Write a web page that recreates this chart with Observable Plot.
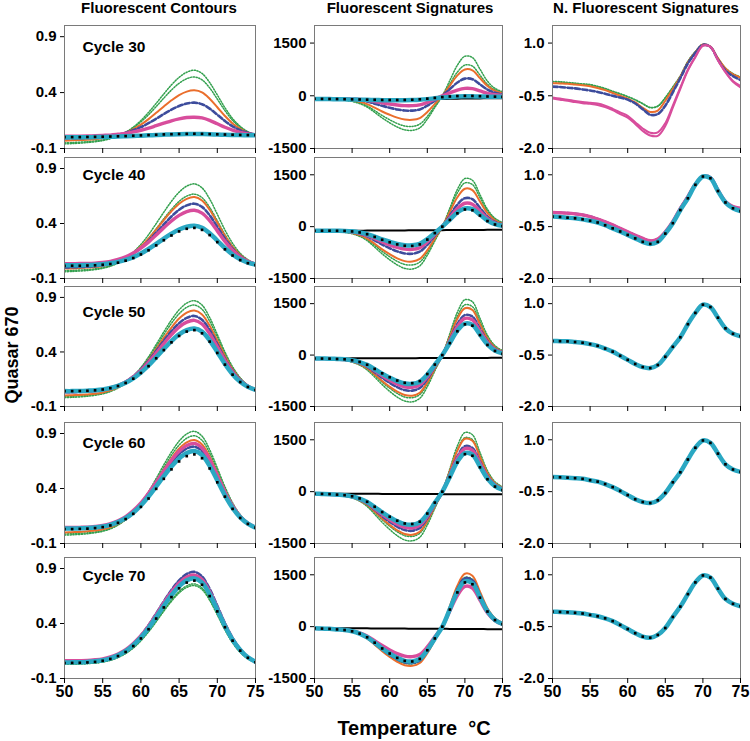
<!DOCTYPE html>
<html><head><meta charset="utf-8">
<script src="https://cdn.jsdelivr.net/npm/d3@7"></script>
<script src="https://cdn.jsdelivr.net/npm/@observablehq/plot@0.6"></script>
<style>
body{margin:0;background:#fff;}
#chart{position:relative;width:750px;height:741px;overflow:hidden;font-family:"Liberation Sans",Arial,sans-serif;font-weight:bold;color:#000;background:#fff;}
.abs{position:absolute;white-space:pre;}
</style></head><body><div id="chart"></div>
<script>
const temps = [50,51,52,53,54,55,56,57,58,59,60,61,62,63,64,65,66,67,68,69,70,71,72,73,74,75];
const xTicks = [50,55,60,65,70,75];
const cycles = [30,40,50,60,70];
const columnTitles = ["Fluorescent Contours","Fluorescent Signatures","N. Fluorescent Signatures"];
const contourTicks = [-0.1,0.4,0.9];
const signatureTicks = [-1500,0,1500];
const normTicks = [-2.0,-0.5,1.0];

// ---------- Fluorescent Contours ----------
const contours30 = {
  greenA:[-0.059,-0.056,-0.052,-0.047,-0.040,-0.029,-0.012,0.012,0.045,0.091,0.150,0.223,0.304,0.388,0.469,0.536,0.582,0.600,0.571,0.490,0.379,0.265,0.168,0.098,0.050,0.022],
  greenB:[-0.050,-0.047,-0.043,-0.039,-0.032,-0.023,-0.009,0.014,0.043,0.085,0.138,0.202,0.275,0.351,0.423,0.483,0.524,0.540,0.514,0.442,0.342,0.239,0.152,0.090,0.046,0.021],
  orange:[-0.030,-0.027,-0.024,-0.022,-0.017,-0.009,0.002,0.019,0.041,0.073,0.113,0.163,0.219,0.276,0.331,0.378,0.409,0.420,0.402,0.345,0.269,0.191,0.124,0.076,0.042,0.023],
  navy:[-0.010,-0.008,-0.007,-0.004,0.000,0.004,0.012,0.024,0.041,0.063,0.091,0.126,0.166,0.208,0.247,0.280,0.302,0.310,0.296,0.257,0.202,0.146,0.098,0.064,0.040,0.026],
  magenta:[0.010,0.010,0.011,0.012,0.014,0.017,0.020,0.027,0.035,0.048,0.063,0.082,0.104,0.126,0.148,0.165,0.177,0.180,0.174,0.152,0.121,0.090,0.064,0.044,0.031,0.023],
  cyan:[0.000,0.000,0.000,0.001,0.002,0.003,0.005,0.007,0.009,0.012,0.015,0.018,0.021,0.024,0.026,0.028,0.029,0.030,0.029,0.027,0.025,0.023,0.021,0.020,0.019,0.018],
  black:[0.002,0.002,0.002,0.003,0.004,0.005,0.007,0.009,0.011,0.014,0.017,0.020,0.023,0.026,0.028,0.030,0.031,0.032,0.031,0.029,0.027,0.025,0.023,0.021,0.020,0.019]
};
const contours40 = {
  greenA:[-0.039,-0.036,-0.032,-0.027,-0.019,-0.007,0.012,0.042,0.082,0.139,0.210,0.298,0.399,0.503,0.602,0.685,0.740,0.760,0.724,0.623,0.484,0.341,0.220,0.129,0.071,0.035],
  greenB:[-0.029,-0.027,-0.023,-0.019,-0.012,-0.001,0.015,0.040,0.076,0.125,0.188,0.264,0.352,0.443,0.528,0.601,0.649,0.667,0.635,0.546,0.425,0.300,0.194,0.116,0.064,0.033],
  orange:[-0.009,-0.008,-0.005,-0.001,0.004,0.014,0.029,0.052,0.085,0.131,0.190,0.262,0.344,0.431,0.511,0.579,0.624,0.640,0.609,0.525,0.408,0.289,0.187,0.113,0.063,0.033],
  navy:[0.001,0.002,0.004,0.007,0.011,0.020,0.033,0.054,0.082,0.124,0.177,0.242,0.316,0.391,0.464,0.525,0.565,0.580,0.551,0.475,0.370,0.263,0.172,0.103,0.059,0.031],
  magenta:[0.035,0.035,0.036,0.037,0.040,0.046,0.056,0.073,0.097,0.132,0.177,0.231,0.295,0.361,0.423,0.474,0.508,0.520,0.494,0.426,0.333,0.237,0.157,0.095,0.056,0.030],
  cyan:[0.020,0.021,0.021,0.023,0.025,0.030,0.038,0.051,0.069,0.094,0.127,0.168,0.214,0.263,0.308,0.346,0.371,0.380,0.362,0.312,0.245,0.177,0.118,0.074,0.045,0.027],
  black:[0.015,0.016,0.016,0.018,0.020,0.025,0.032,0.044,0.062,0.086,0.118,0.157,0.201,0.248,0.291,0.328,0.352,0.360,0.342,0.295,0.231,0.165,0.109,0.067,0.039,0.022]
};
const contours50 = {
  greenA:[-0.019,-0.016,-0.012,-0.006,0.003,0.016,0.037,0.069,0.114,0.177,0.257,0.355,0.468,0.584,0.694,0.786,0.848,0.870,0.830,0.716,0.560,0.400,0.264,0.163,0.095,0.055],
  greenB:[-0.009,-0.006,-0.003,0.002,0.010,0.023,0.042,0.073,0.115,0.174,0.250,0.343,0.449,0.559,0.663,0.750,0.809,0.830,0.791,0.682,0.535,0.383,0.253,0.158,0.092,0.054],
  orange:[0.001,0.004,0.006,0.011,0.017,0.029,0.048,0.075,0.115,0.169,0.240,0.327,0.426,0.529,0.624,0.706,0.761,0.780,0.744,0.641,0.503,0.362,0.240,0.151,0.089,0.053],
  navy:[0.031,0.031,0.034,0.037,0.042,0.051,0.067,0.092,0.127,0.177,0.241,0.319,0.409,0.502,0.590,0.664,0.712,0.730,0.695,0.601,0.472,0.339,0.227,0.145,0.088,0.053],
  magenta:[0.036,0.036,0.039,0.041,0.046,0.054,0.070,0.092,0.125,0.171,0.231,0.305,0.389,0.476,0.558,0.628,0.673,0.690,0.656,0.567,0.446,0.323,0.217,0.138,0.086,0.053],
  cyan:[0.041,0.041,0.042,0.045,0.049,0.056,0.069,0.089,0.118,0.158,0.211,0.276,0.351,0.428,0.500,0.561,0.601,0.615,0.586,0.507,0.400,0.290,0.196,0.126,0.080,0.052],
  black:[0.041,0.041,0.042,0.044,0.048,0.056,0.068,0.088,0.116,0.155,0.207,0.270,0.342,0.417,0.488,0.547,0.587,0.600,0.571,0.495,0.391,0.284,0.192,0.124,0.079,0.051]
};
const contours60 = {
  greenA:[-0.024,-0.021,-0.017,-0.011,-0.002,0.011,0.033,0.067,0.116,0.182,0.268,0.372,0.491,0.616,0.732,0.831,0.896,0.920,0.876,0.753,0.587,0.416,0.270,0.161,0.091,0.048],
  greenB:[-0.014,-0.011,-0.008,-0.003,0.005,0.018,0.039,0.071,0.117,0.179,0.260,0.360,0.474,0.591,0.702,0.795,0.857,0.880,0.838,0.722,0.562,0.399,0.260,0.157,0.088,0.047],
  orange:[0.001,0.003,0.005,0.011,0.017,0.029,0.048,0.078,0.121,0.180,0.256,0.350,0.457,0.569,0.673,0.761,0.819,0.840,0.800,0.689,0.537,0.382,0.249,0.151,0.086,0.046],
  navy:[0.036,0.036,0.038,0.041,0.046,0.055,0.071,0.097,0.134,0.187,0.258,0.340,0.437,0.537,0.632,0.711,0.763,0.780,0.743,0.641,0.501,0.357,0.236,0.143,0.083,0.045],
  magenta:[0.046,0.046,0.047,0.049,0.055,0.064,0.080,0.107,0.145,0.200,0.270,0.357,0.457,0.559,0.657,0.738,0.791,0.810,0.769,0.663,0.518,0.369,0.243,0.147,0.085,0.046],
  cyan:[0.036,0.036,0.038,0.040,0.045,0.054,0.070,0.094,0.130,0.180,0.246,0.327,0.418,0.512,0.600,0.672,0.722,0.740,0.704,0.606,0.473,0.337,0.223,0.137,0.080,0.044],
  black:[0.031,0.031,0.033,0.035,0.040,0.049,0.064,0.088,0.122,0.170,0.233,0.309,0.397,0.488,0.574,0.646,0.694,0.710,0.675,0.582,0.456,0.326,0.215,0.132,0.078,0.044]
};
const contours70 = {
  greenA:[0.031,0.031,0.033,0.036,0.041,0.050,0.067,0.092,0.129,0.180,0.248,0.330,0.424,0.522,0.614,0.691,0.742,0.760,0.723,0.623,0.487,0.348,0.229,0.140,0.080,0.043],
  greenB:[0.031,0.031,0.033,0.036,0.041,0.050,0.066,0.091,0.127,0.177,0.243,0.324,0.416,0.512,0.602,0.678,0.728,0.745,0.709,0.611,0.478,0.341,0.224,0.138,0.079,0.042],
  orange:[0.041,0.042,0.043,0.046,0.052,0.062,0.079,0.106,0.145,0.201,0.272,0.361,0.461,0.566,0.664,0.747,0.801,0.820,0.780,0.673,0.528,0.379,0.252,0.157,0.090,0.050],
  navy:[0.046,0.047,0.048,0.052,0.057,0.068,0.086,0.115,0.156,0.215,0.291,0.384,0.491,0.601,0.705,0.792,0.850,0.870,0.828,0.715,0.561,0.404,0.269,0.166,0.095,0.052],
  magenta:[0.061,0.061,0.062,0.064,0.070,0.079,0.096,0.123,0.162,0.218,0.289,0.378,0.480,0.586,0.685,0.768,0.823,0.840,0.800,0.690,0.541,0.390,0.260,0.161,0.094,0.053],
  cyan:[0.046,0.047,0.048,0.051,0.056,0.066,0.083,0.110,0.148,0.203,0.273,0.359,0.458,0.561,0.657,0.738,0.792,0.810,0.771,0.666,0.524,0.378,0.253,0.160,0.093,0.052],
  black:[0.041,0.042,0.043,0.046,0.051,0.061,0.078,0.104,0.141,0.195,0.264,0.348,0.445,0.546,0.640,0.720,0.772,0.790,0.752,0.649,0.510,0.366,0.244,0.153,0.088,0.048]
};

// ---------- Fluorescent Signatures ----------
const signatures30 = {
  line:[-95,-96,-97,-98,-99,-100,-101,-102,-103,-104,-104,-104,-103,-102,-100,-97,-94,-90,-86,-82,-79,-76,-74,-72,-70,-68],
  greenA:[-90,-94,-99,-113,-127,-160,-222,-323,-471,-630,-769,-889,-970,-984,-912,-665,-333,0,435,870,1125,1088,758,416,210,116],
  greenB:[-90,-93,-96,-108,-120,-149,-203,-291,-422,-561,-683,-788,-860,-871,-806,-589,-294,0,337,675,873,845,589,325,166,94],
  orange:[-90,-91,-93,-101,-109,-130,-171,-239,-339,-447,-541,-622,-676,-684,-633,-461,-231,0,290,580,750,725,505,278,140,78],
  navy:[-90,-89,-87,-90,-93,-104,-126,-165,-224,-286,-341,-388,-419,-421,-388,-283,-141,0,189,377,488,471,326,177,86,45],
  magenta:[-90,-87,-85,-85,-84,-90,-102,-126,-162,-201,-235,-263,-281,-281,-258,-187,-94,0,82,163,211,202,138,71,30,11],
  cyan:[-90,-92,-95,-98,-102,-106,-110,-115,-120,-124,-127,-128,-127,-122,-112,-95,-72,-50,-32,-20,-15,-16,-20,-25,-28,-30],
  black:[-85,-88,-90,-93,-97,-101,-105,-110,-114,-118,-120,-120,-118,-112,-100,-82,-60,-38,-20,-8,-2,-5,-12,-20,-26,-30]
};
const signatures40 = {
  line:[-125,-124,-122,-121,-119,-118,-117,-115,-114,-112,-111,-110,-108,-107,-105,-104,-103,-101,-100,-98,-97,-96,-94,-93,-91,-90],
  greenA:[-120,-125,-130,-147,-164,-205,-281,-406,-591,-787,-959,-1107,-1208,-1225,-1134,-828,-414,0,538,1077,1391,1341,927,500,240,120],
  greenB:[-120,-124,-128,-142,-157,-193,-262,-373,-539,-715,-870,-1003,-1093,-1108,-1025,-748,-374,0,489,978,1264,1218,840,450,213,104],
  orange:[-120,-123,-126,-138,-151,-183,-245,-346,-496,-656,-795,-916,-997,-1010,-934,-682,-341,0,425,849,1096,1056,727,388,181,85],
  navy:[-120,-121,-121,-129,-137,-161,-207,-283,-397,-518,-624,-715,-776,-784,-724,-528,-264,0,319,638,824,793,546,290,134,62],
  magenta:[-120,-119,-119,-124,-130,-148,-185,-247,-340,-440,-527,-602,-651,-657,-606,-442,-221,0,262,524,676,650,445,234,105,44],
  cyan:[-120,-118,-116,-119,-123,-136,-165,-214,-289,-369,-437,-497,-536,-539,-496,-361,-181,0,205,410,528,507,345,178,75,27],
  black:[-120,-118,-117,-120,-124,-138,-168,-219,-297,-379,-452,-514,-554,-558,-514,-374,-187,0,193,385,496,474,320,161,62,16]
};
const signatures50 = {
  line:[-100,-99,-98,-98,-97,-96,-95,-94,-94,-93,-92,-91,-90,-90,-89,-88,-87,-86,-86,-85,-84,-83,-82,-82,-81,-80],
  greenA:[-100,-107,-115,-136,-156,-205,-292,-434,-642,-863,-1058,-1226,-1340,-1362,-1262,-922,-461,0,625,1250,1614,1555,1073,575,272,131],
  greenB:[-100,-106,-112,-131,-149,-193,-272,-400,-589,-791,-967,-1120,-1224,-1243,-1152,-841,-420,0,567,1135,1465,1411,972,518,242,114],
  orange:[-100,-106,-111,-128,-146,-187,-262,-384,-563,-755,-923,-1067,-1166,-1184,-1097,-801,-400,0,529,1058,1365,1314,903,479,219,99],
  navy:[-100,-104,-108,-122,-137,-172,-237,-342,-498,-664,-810,-936,-1021,-1036,-959,-700,-350,0,452,905,1168,1123,770,406,183,79],
  magenta:[-100,-103,-106,-119,-131,-162,-220,-315,-455,-605,-736,-848,-925,-938,-868,-634,-317,0,414,828,1068,1026,701,366,161,64],
  cyan:[-100,-102,-104,-115,-125,-153,-204,-287,-412,-544,-660,-760,-828,-839,-776,-566,-283,0,356,713,919,882,600,310,131,47],
  black:[-100,-102,-104,-114,-124,-151,-200,-282,-403,-533,-646,-743,-809,-820,-758,-553,-277,0,348,695,896,858,582,295,120,36]
};
const signatures60 = {
  line:[-58,-59,-60,-60,-61,-62,-63,-64,-64,-65,-66,-67,-68,-68,-69,-70,-71,-72,-72,-73,-74,-75,-76,-76,-77,-78],
  greenA:[-60,-70,-81,-105,-130,-183,-278,-429,-652,-887,-1095,-1274,-1398,-1422,-1320,-964,-483,0,661,1323,1709,1646,1134,607,285,136],
  greenB:[-60,-69,-79,-100,-123,-170,-257,-394,-596,-809,-999,-1161,-1273,-1295,-1202,-878,-440,0,605,1209,1561,1503,1035,551,256,119],
  orange:[-60,-68,-78,-98,-120,-165,-249,-380,-575,-780,-962,-1118,-1226,-1247,-1158,-845,-423,0,593,1185,1529,1471,1010,534,243,107],
  navy:[-60,-67,-75,-94,-113,-154,-229,-347,-523,-709,-873,-1014,-1112,-1130,-1049,-766,-383,0,510,1019,1315,1264,866,455,204,87],
  magenta:[-60,-66,-74,-91,-108,-146,-215,-326,-489,-661,-814,-945,-1035,-1052,-976,-713,-357,0,482,965,1245,1195,816,425,186,73],
  cyan:[-60,-65,-72,-87,-102,-136,-199,-298,-446,-602,-740,-858,-940,-955,-886,-647,-324,0,433,866,1117,1072,730,376,160,57],
  black:[-60,-65,-71,-86,-101,-134,-196,-293,-437,-590,-725,-841,-921,-935,-868,-633,-317,0,421,841,1084,1038,704,359,146,46]
};
const signatures70 = {
  line:[-40,-41,-43,-44,-46,-47,-48,-50,-51,-53,-54,-55,-57,-58,-60,-61,-62,-64,-65,-67,-68,-69,-71,-72,-74,-75],
  greenA:[-50,-57,-65,-84,-102,-142,-214,-328,-496,-674,-831,-967,-1059,-1077,-999,-730,-365,0,552,1104,1424,1369,937,492,220,92],
  greenB:[-50,-57,-64,-82,-99,-137,-206,-316,-477,-648,-799,-929,-1018,-1036,-961,-702,-351,0,532,1064,1372,1317,903,475,212,90],
  orange:[-50,-58,-66,-86,-105,-147,-223,-343,-520,-709,-874,-1017,-1116,-1135,-1053,-770,-385,0,593,1186,1530,1472,1011,534,243,108],
  navy:[-50,-57,-65,-83,-100,-139,-209,-320,-484,-658,-811,-944,-1034,-1052,-976,-713,-357,0,542,1084,1399,1345,921,484,216,91],
  magenta:[-50,-56,-61,-75,-89,-121,-178,-269,-403,-546,-672,-780,-854,-868,-805,-588,-294,0,451,902,1164,1118,764,398,175,69],
  cyan:[-50,-57,-64,-81,-98,-135,-201,-308,-464,-631,-777,-904,-990,-1007,-934,-683,-341,0,506,1014,1307,1255,857,447,195,77],
  black:[-50,-57,-64,-81,-98,-135,-201,-308,-464,-631,-777,-904,-990,-1007,-934,-683,-341,0,494,990,1278,1227,838,437,190,75]
};

// ---------- N. Fluorescent Signatures ----------
const nsig30 = {
  greenA:[-0.10,-0.11,-0.13,-0.15,-0.17,-0.19,-0.24,-0.30,-0.38,-0.45,-0.53,-0.62,-0.73,-0.84,-0.80,-0.56,-0.26,0.06,0.47,0.75,0.96,0.89,0.56,0.28,0.12,0.03],
  greenB:[-0.09,-0.10,-0.12,-0.14,-0.16,-0.18,-0.23,-0.29,-0.37,-0.44,-0.52,-0.61,-0.72,-0.83,-0.79,-0.55,-0.25,0.07,0.48,0.76,0.96,0.89,0.57,0.29,0.13,0.04],
  orange:[-0.14,-0.15,-0.16,-0.18,-0.20,-0.23,-0.28,-0.34,-0.42,-0.50,-0.58,-0.69,-0.84,-0.96,-0.92,-0.64,-0.31,0.04,0.45,0.74,0.96,0.90,0.57,0.28,0.11,0.02],
  navy:[-0.24,-0.25,-0.27,-0.29,-0.32,-0.35,-0.39,-0.44,-0.50,-0.55,-0.61,-0.72,-0.88,-1.04,-1.02,-0.78,-0.40,0.00,0.42,0.72,0.95,0.89,0.53,0.22,0.06,-0.05],
  magentaA:[-0.55,-0.58,-0.61,-0.65,-0.68,-0.70,-0.72,-0.78,-0.87,-0.97,-1.07,-1.25,-1.43,-1.55,-1.54,-1.28,-0.78,-0.26,0.24,0.62,0.93,0.89,0.52,0.18,-0.08,-0.22],
  magentaB:[-0.58,-0.61,-0.64,-0.68,-0.71,-0.73,-0.76,-0.82,-0.91,-1.02,-1.12,-1.30,-1.50,-1.63,-1.64,-1.36,-0.84,-0.30,0.22,0.60,0.92,0.89,0.51,0.17,-0.10,-0.26]
};
const nsig40Upper = [-0.09,-0.10,-0.11,-0.13,-0.16,-0.21,-0.28,-0.36,-0.45,-0.55,-0.65,-0.75,-0.84,-0.91,-0.86,-0.65,-0.35,0.03,0.37,0.73,0.95,0.92,0.56,0.23,0.08,0.03];
const nsig40Lower = [-0.21,-0.22,-0.24,-0.26,-0.29,-0.33,-0.38,-0.46,-0.55,-0.64,-0.74,-0.84,-0.94,-1.00,-0.94,-0.70,-0.40,-0.02,0.32,0.71,0.95,0.90,0.53,0.20,0.03,-0.05];
const nsig50 = [-0.09,-0.095,-0.10,-0.12,-0.14,-0.18,-0.23,-0.31,-0.40,-0.52,-0.64,-0.76,-0.85,-0.88,-0.79,-0.55,-0.26,0.02,0.40,0.73,0.97,0.90,0.59,0.28,0.12,0.05];
const nsig60 = [-0.08,-0.085,-0.095,-0.11,-0.13,-0.17,-0.21,-0.28,-0.37,-0.48,-0.60,-0.72,-0.80,-0.83,-0.75,-0.54,-0.23,0.06,0.43,0.77,0.98,0.91,0.60,0.29,0.14,0.07];
const nsig70 = [-0.066,-0.075,-0.085,-0.10,-0.12,-0.16,-0.20,-0.26,-0.34,-0.45,-0.57,-0.69,-0.79,-0.82,-0.74,-0.54,-0.22,0.08,0.44,0.78,0.98,0.92,0.60,0.30,0.16,0.09];

// ---------- layout & styles ----------
const colX = [64, 314, 552], colW = [191, 188, 188];
const rowY = [25, 157, 286, 422, 557], rowH = [123, 121, 120, 121, 121];
const cycleDy = [15, 11, 19, 14, 12];
const ML = 50, MR = 6, MT = 4, MB = 26;
const styles = {
  line:{stroke:"#000", strokeWidth:2},
  green:{stroke:"#33a04e", strokeWidth:1.5, strokeDasharray:"1.2,1.6"},
  orange:{stroke:"#ea6e2c", strokeWidth:2},
  navy:{stroke:"#3d4c9c", strokeWidth:2.6, strokeDasharray:"5,2.5"},
  magenta:{stroke:"#d84d9c", strokeWidth:3.4},
  magentaThin:{stroke:"#d84d9c", strokeWidth:2},
  cyan:{stroke:"#2aa8c3", strokeWidth:4.5}
};
const styleFor = k => k === "magentaA" || k === "magentaB" ? styles.magentaThin : styles[k.replace(/[AB]$/, "")];
const drawOrder = ["line","greenA","greenB","orange","navy","magenta","magentaA","magentaB","cyan","black"];
const columns = [
  {data:[contours30,contours40,contours50,contours60,contours70], domain:[-0.1,1.0], ticks:contourTicks, fmt:d=>d.toFixed(1)},
  {data:[signatures30,signatures40,signatures50,signatures60,signatures70], domain:[-1500,2000], ticks:signatureTicks, fmt:d=>String(d)},
  {data:[nsig30,
         {greenA:nsig40Upper, orange:nsig40Upper, navy:nsig40Upper, magenta:nsig40Upper, cyan:nsig40Lower, black:nsig40Lower},
         {orange:nsig50, cyan:nsig50, black:nsig50},
         {orange:nsig60, cyan:nsig60, black:nsig60},
         {orange:nsig70, cyan:nsig70, black:nsig70}], domain:[-2.0,1.5], ticks:normTicks, fmt:d=>d.toFixed(1)}
];

const chart = document.getElementById("chart");
columns.forEach((col, c) => {
  col.data.forEach((values, r) => {
    const marks = [];
    for (const k of drawOrder) {
      if (!values[k]) continue;
      const rows = temps.map((t, i) => ({t, v: values[k][i]}));
      if (k === "black") {
        marks.push(Plot.dot(rows, {x:"t", y:"v", symbol:"square", r:1.5, fill:"#000", clip:true}));
      } else {
        marks.push(Plot.line(rows, {x:"t", y:"v", curve:"catmull-rom", clip:true, ...styleFor(k)}));
      }
    }
    marks.push(Plot.frame({stroke:"#7a7a7a", strokeWidth:1}));
    marks.push(Plot.axisY({ticks:col.ticks, tickFormat:col.fmt, tickSize:4, tickPadding:4, label:null, fontSize:15, fontWeight:"bold"}));
    marks.push(Plot.axisX({ticks:xTicks, tickFormat: r === 4 ? d => String(d) : () => "", tickSize:5, tickPadding:2, label:null, fontSize:16, fontWeight:"bold"}));
    if (c === 0) {
      marks.push(Plot.text([`Cycle ${cycles[r]}`], {text:d => d, frameAnchor:"top-left", textAnchor:"start", lineAnchor:"top", dx:18, dy:cycleDy[r], fontSize:15.5, fontWeight:"bold", fill:"#000"}));
    }
    const svg = Plot.plot({
      width: colW[c] + ML + MR, height: rowH[r] + MT + MB,
      marginLeft: ML, marginRight: MR, marginTop: MT, marginBottom: MB,
      x:{domain:[50,75]}, y:{domain:col.domain},
      style:{background:"transparent", overflow:"visible", fontFamily:"'Liberation Sans', Arial, sans-serif", fontWeight:"bold", fontSize:"14px", color:"#000"},
      marks
    });
    svg.style.position = "absolute";
    svg.style.left = (colX[c] - ML) + "px";
    svg.style.top = (rowY[r] - MT) + "px";
    chart.appendChild(svg);
  });
});

// titles and axis labels
const titleCenters = [159, 410, 646];
columnTitles.forEach((t, i) => {
  const d = document.createElement("div");
  d.className = "abs";
  d.textContent = t;
  d.style.cssText += `left:${titleCenters[i]}px;top:-1px;font-size:15px;line-height:17px;transform:translateX(-50%);`;
  chart.appendChild(d);
});
const yl = document.createElement("div");
yl.className = "abs";
yl.textContent = "Quasar 670";
yl.style.cssText += "left:12px;top:355px;font-size:18px;line-height:20px;transform:translate(-50%,-50%) rotate(-90deg);";
chart.appendChild(yl);
const xl = document.createElement("div");
xl.className = "abs";
xl.textContent = "Temperature  \u00B0C";
xl.style.cssText += "left:414px;top:716px;font-size:20px;line-height:24px;transform:translateX(-50%);";
chart.appendChild(xl);
</script></body></html>
